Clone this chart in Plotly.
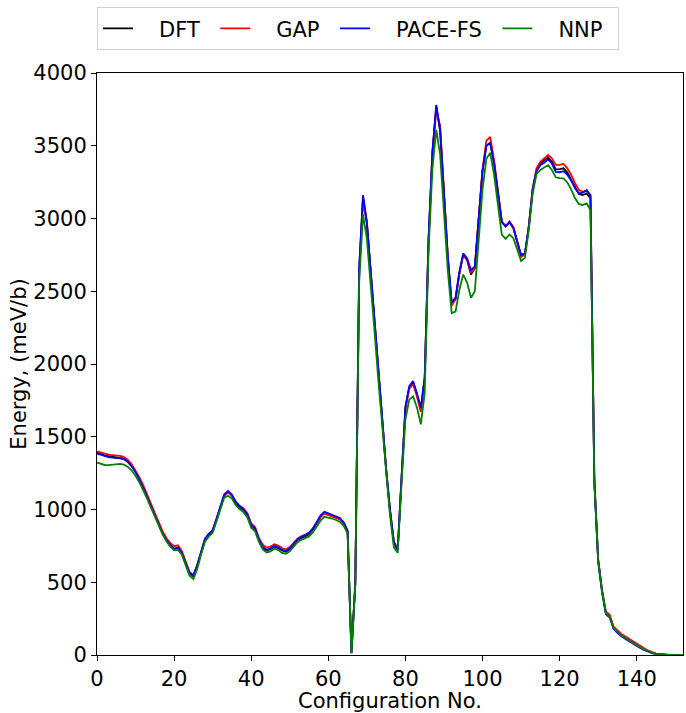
import plotly.graph_objects as go

config_no = list(range(153))

dft = [1390, 1380, 1372, 1366, 1363, 1361, 1358, 1350, 1330, 1300,
       1260, 1210, 1155, 1090, 1025, 960, 895, 840, 792, 755,
       730, 736, 700, 630, 560, 540, 610, 700, 790, 826,
       852, 930, 1020, 1095, 1120, 1095, 1045, 1015, 995, 960,
       890, 865, 790, 738, 718, 728, 745, 735, 718, 710,
       728, 760, 790, 805, 815, 832, 862, 905, 950, 975,
       965, 958, 948, 936, 906, 850, 15, 495, 2650, 3150,
       2965, 2640, 2290, 1940, 1610, 1270, 990, 770, 722, 1220,
       1700, 1840, 1875, 1790, 1690, 1900, 2850, 3450, 3770, 3600,
       3140, 2730, 2415, 2445, 2620, 2750, 2715, 2615, 2660, 3000,
       3330, 3500, 3520, 3380, 3165, 2975, 2945, 2975, 2935, 2840,
       2745, 2755, 2945, 3200, 3330, 3379, 3397, 3420, 3390, 3338,
       3340, 3345, 3316, 3269, 3214, 3168, 3161, 3173, 3139, 1200,
       650, 440, 287, 265, 185, 160, 135, 118, 100, 85,
       68, 52, 38, 26, 16, 8, 4, 2, 1, 0,
       0, 0, 0]

gap = [1400, 1391, 1383, 1377, 1374, 1372, 1369, 1361, 1341, 1311,
       1270, 1220, 1165, 1100, 1035, 970, 905, 851, 804, 770,
       748, 754, 716, 642, 570, 550, 620, 710, 800, 832,
       858, 936, 1026, 1100, 1118, 1098, 1052, 1025, 1008, 975,
       905, 880, 805, 758, 738, 745, 762, 752, 735, 725,
       742, 772, 800, 815, 825, 840, 868, 910, 952, 972,
       962, 955, 945, 932, 904, 852, 15, 495, 2620, 3120,
       2975, 2650, 2300, 1950, 1620, 1280, 1000, 780, 730, 1210,
       1690, 1830, 1862, 1775, 1670, 1900, 2850, 3450, 3740, 3640,
       3160, 2740, 2400, 2450, 2625, 2755, 2720, 2625, 2660, 3010,
       3340, 3535, 3560, 3400, 3170, 2980, 2950, 2980, 2940, 2845,
       2735, 2755, 2945, 3205, 3345, 3390, 3413, 3436, 3413, 3368,
       3368, 3375, 3345, 3299, 3242, 3196, 3184, 3190, 3160, 1210,
       660, 450, 298, 277, 195, 170, 145, 128, 110, 94,
       76, 59, 44, 31, 20, 10, 5, 2, 1, 0,
       0, 0, 0]

pace_fs = [1385, 1375, 1366, 1360, 1357, 1355, 1352, 1345, 1326, 1296,
           1257, 1207, 1152, 1088, 1023, 958, 893, 838, 790, 753,
           730, 738, 702, 633, 565, 546, 616, 706, 796, 832,
           858, 937, 1028, 1104, 1128, 1102, 1052, 1022, 1002, 966,
           896, 870, 795, 743, 722, 732, 750, 740, 722, 714,
           732, 765, 796, 812, 822, 840, 870, 914, 960, 985,
           975, 966, 955, 942, 912, 855, 15, 495, 2660, 3160,
           2975, 2650, 2300, 1950, 1620, 1280, 1000, 775, 722, 1225,
           1705, 1848, 1882, 1798, 1700, 1910, 2860, 3460, 3780, 3610,
           3145, 2735, 2425, 2455, 2635, 2760, 2725, 2645, 2670, 3005,
           3330, 3500, 3518, 3378, 3165, 2975, 2945, 2975, 2935, 2840,
           2750, 2760, 2945, 3195, 3325, 3367, 3383, 3406, 3378, 3321,
           3318, 3325, 3300, 3260, 3207, 3172, 3177, 3196, 3160, 1200,
           645, 432, 280, 258, 178, 153, 128, 111, 94, 79,
           62, 47, 33, 22, 13, 6, 3, 1, 0, 0,
           0, 0, 0]

nnp = [1322, 1312, 1306, 1305, 1307, 1311, 1313, 1308, 1293, 1268,
       1232, 1186, 1135, 1074, 1012, 950, 885, 830, 782, 745,
       720, 722, 690, 618, 545, 522, 592, 690, 778, 815,
       840, 918, 1008, 1082, 1095, 1075, 1030, 1002, 982, 945,
       875, 850, 778, 725, 705, 712, 730, 722, 702, 695,
       712, 745, 775, 790, 800, 815, 842, 880, 925, 950,
       945, 938, 928, 915, 888, 835, 10, 480, 2560, 3030,
       2860, 2560, 2220, 1880, 1560, 1230, 960, 740, 702, 1180,
       1620, 1755, 1778, 1700, 1585, 1800, 2780, 3340, 3610, 3440,
       3020, 2640, 2350, 2360, 2510, 2615, 2560, 2455, 2500, 2870,
       3200, 3410, 3452, 3300, 3082, 2890, 2860, 2890, 2865, 2790,
       2708, 2730, 2920, 3170, 3305, 3333, 3351, 3367, 3333, 3283,
       3278, 3276, 3248, 3200, 3139, 3099, 3093, 3104, 3058, 1180,
       645, 438, 287, 265, 185, 160, 135, 118, 100, 85,
       68, 52, 38, 26, 16, 8, 4, 2, 1, 0,
       0, 0, 0]

series_names = ["DFT", "GAP", "PACE-FS", "NNP"]
series_values = [dft, gap, pace_fs, nnp]
series_colors = ["black", "red", "blue", "green"]

FONT = "DejaVu Sans"
FS = 21
PAD = "\u2002\u2002"  # visual gap between legend line and label (matplotlib-like)

fig = go.Figure()
for name, vals, color in zip(series_names, series_values, series_colors):
    fig.add_trace(go.Scatter(x=config_no, y=vals, mode="lines",
                             name=PAD + name + "\u2002",
                             line=dict(color=color, width=1.8)))

axis_common = dict(showline=True, linecolor="black", linewidth=1, mirror=True,
                   ticks="outside", ticklen=5, tickwidth=1, tickcolor="black",
                   showgrid=False, zeroline=False,
                   tickfont=dict(family=FONT, size=FS, color="black"))

fig.update_layout(
    width=686, height=713,
    margin=dict(l=97, r=3, t=73, b=58),
    paper_bgcolor="white", plot_bgcolor="white",
    font=dict(family=FONT, size=FS, color="black"),
    xaxis=dict(range=[0, 152], tick0=0, dtick=20,
               title=dict(text="Configuration No.", font=dict(family=FONT, size=FS), standoff=0),
               **axis_common),
    yaxis=dict(range=[0, 4000], tick0=0, dtick=500,
               title=dict(text="Energy, (meV/b)", font=dict(family=FONT, size=FS), standoff=0),
               **axis_common),
    legend=dict(orientation="h", x=0, xanchor="left", y=1.113, yanchor="top",
                bordercolor="#d0d0d0", borderwidth=1,
                font=dict(family=FONT, size=FS, color="black"),
                tracegroupgap=0),
    showlegend=True,
)

fig.write_html("out.html")
